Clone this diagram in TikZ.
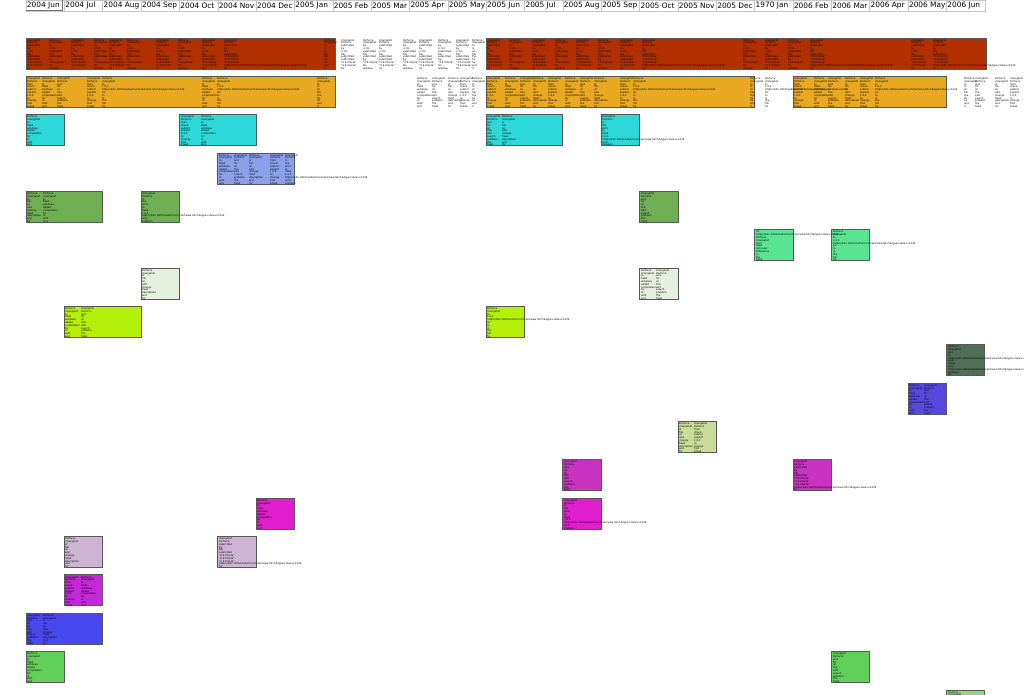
\documentclass[tikz,border=0pt]{standalone}
\usepackage{fontspec}
\setmainfont{DejaVu Sans}
\definecolor{cRed}{RGB}{178,48,0}
\definecolor{cOrange}{RGB}{232,168,32}
\definecolor{cCyan}{RGB}{44,216,216}
\definecolor{cLav}{RGB}{138,160,232}
\definecolor{cGreen}{RGB}{112,174,86}
\definecolor{cLGreen}{RGB}{88,228,144}
\definecolor{cPale}{RGB}{230,240,222}
\definecolor{cLime}{RGB}{180,240,10}
\definecolor{cDGreen}{RGB}{82,112,88}
\definecolor{cViolet}{RGB}{88,72,224}
\definecolor{cPYG}{RGB}{200,220,152}
\definecolor{cPM}{RGB}{200,52,192}
\definecolor{cMag}{RGB}{224,32,208}
\definecolor{cLilac}{RGB}{204,180,210}
\definecolor{cPurp}{RGB}{196,40,216}
\definecolor{cBlue}{RGB}{72,72,236}
\definecolor{cGr2}{RGB}{96,208,88}
\definecolor{cGr3}{RGB}{136,216,136}
\def\U{https://bits.1000/studio/trac/ticket/view?id=5\&type=1\&rev=1229}
\def\sA{changelist\\Perforce\\submitted\\by\\ci.tm\\file\\submitted\\submitted\\"0.9.0 beta"\\"0.9.0 beta"\\fix}
\def\sB{Perforce\\changelist\\by\\ci.tm\\submitted\\file\\submitted\\by\\"0.9.0 beta"\\for\\window}
\def\sC{changelist\\Perforce\\from\\check\\submit\\explicit\\1.0.0\\to\\change\\find\\break}
\def\sD{Perforce\\changelist\\to\\fixed\\windows\\added\\compilation\\for\\in\\with\\and}
\def\sE{changelist\\Perforce\\and\\for\\on\\this\\edit\\search\\problem\\the\\fixed}
\def\sF{Perforce\\changelist\\of\\file\\on\\add\\change\\fixed\\description\\and\\for}
\def\sG{Perforce\\changelist\\to\\in\\on\\file\\the\\fix\\for\\and\\it}
\def\uB{changelist\\Perforce\\in\\the\\error\\to\\fixed\\1.0.0\\\U\\error\\problem}
\def\uC{Perforce\\changelist\\to\\1.0.0\\\U\\for\\to\\in\\the\\file\\fix}
\def\uD{changelist\\Perforce\\submitted\\by\\file\\submitted\\"0.9.0 beta"\\"0.9.0 beta"\\"0.9.0 beta"\\\U\\fix}
\def\uE{for\\\U\\Perforce\\changelist\\from\\fixed\\removed\\Difference\\ui\\the\\done}
\def\uF{Perforce\\changelist\\and\\in\\\U\\want\\Inbox\\only\\\U\\software\\fix}
\tikzset{
  bx/.style={draw=black!65,line width=0.9pt,anchor=north west,inner sep=0pt,outer sep=0pt,minimum height=31},
  txt/.style={anchor=north west,inner sep=0pt,align=left,font={\fontsize{2.5}{2.8}\selectfont}},
  hdr/.style={anchor=west,inner sep=0pt,font={\fontsize{7.4}{8}\selectfont}},
  hdrline/.style={draw=black!22,line width=0.5pt}
}
\newcommand\bx[5]{\node[bx,fill=#5,minimum width={#4*38.35}] (#1) at ({26+#2*38.35},{38+#3*38.35}) {};}
\newcommand\tcols[3]{\foreach \xx/\st [count=\i] in {#3} {\node[txt] (#1\i) at (\xx,{39+#2*38.35}) {\st};}}
\begin{document}
\begin{tikzpicture}[x=1pt,y=-1pt]
\useasboundingbox[fill=white] (0,0) rectangle (1024,694);
% header
\foreach \m [count=\i from 0] in {2004 Jun,2004 Jul,2004 Aug,2004 Sep,2004 Oct,2004 Nov,2004 Dec,2005 Jan,2005 Feb,2005 Mar,2005 Apr,2005 May,2005 Jun,2005 Jul,2005 Aug,2005 Sep,2005 Oct,2005 Nov,2005 Dec,1970 Jan,2006 Feb,2006 Mar,2006 Apr,2006 May,2006 Jun}{
  \draw[hdrline] ({26+\i*38.35},0) rectangle ({26+(\i+1)*38.35},11);
  \node[hdr] (h\i) at ({26.8+\i*38.35},5.8) {\m};
}
\draw[black!55,line width=0.5pt] (26,10.6) -- (62.5,10.6) -- (62.5,0);
% boxes
\bx{r0a}{0}{0}{8.06}{cRed}
\bx{r0b}{12}{0}{13.04}{cRed}
\bx{r1a}{0}{1}{8.06}{cOrange}
\bx{r1b}{12}{1}{7}{cOrange}
\bx{r1c}{20}{1}{4}{cOrange}
\bx{r2a}{0}{2}{1}{cCyan}
\bx{r2b}{4}{2}{2}{cCyan}
\bx{r2c}{12}{2}{2}{cCyan}
\bx{r2d}{15}{2}{1}{cCyan}
\bx{r3a}{5}{3}{2}{cLav}
\bx{r4a}{0}{4}{2}{cGreen}
\bx{r4b}{3}{4}{1}{cGreen}
\bx{r4c}{16}{4}{1}{cGreen}
\bx{r5a}{19}{5}{1}{cLGreen}
\bx{r5b}{21}{5}{1}{cLGreen}
\bx{r6a}{3}{6}{1}{cPale}
\bx{r6b}{16}{6}{1}{cPale}
\bx{r7a}{1}{7}{2}{cLime}
\bx{r7b}{12}{7}{1}{cLime}
\bx{r8a}{24}{8}{1}{cDGreen}
\bx{r9a}{23}{9}{1}{cViolet}
\bx{r10a}{17}{10}{1}{cPYG}
\bx{r11a}{14}{11}{1}{cPM}
\bx{r11b}{20}{11}{1}{cPM}
\bx{r12a}{6}{12}{1}{cMag}
\bx{r12b}{14}{12}{1}{cMag}
\bx{r13a}{1}{13}{1}{cLilac}
\bx{r13b}{5}{13}{1}{cLilac}
\bx{r14a}{1}{14}{1}{cPurp}
\bx{r15a}{0}{15}{2}{cBlue}
\bx{r16a}{0}{16}{1}{cGr2}
\bx{r16b}{21}{16}{1}{cGr2}
\bx{r17a}{24}{17}{1}{cGr3}
% texts
\tcols{ta}{0}{27/\sA,49/\sB,71/\sA,94/\sB,109/\sA,127/\sB,156/\sA,178/\sB,202/\sA,224/\uD,324/\sG,341/\sA,363/\sB,379/\sA,403/\sB,419/\sA,438/\sB,456/\sA,472/\sG}
\tcols{tb}{0}{487/\sA,509/\sB,532/\sA,555/\sB,576/\sA,598/\sB,620/\sA,642/\uD,743/\sB,765/\sA,788/\sB,810/\uD,911/\sA,933/\uD}
\tcols{tc}{1}{27/\sC,42/\sD,57/\sE,87/\sC,102/\uC,202/\sD,217/\uC,317/\sG,417/\sD,432/\sE,448/\sF,460/\sC,472/\sG}
\tcols{td}{1}{487/\sC,505/\sD,520/\sE,533/\sF,548/\sC,565/\sD,580/\sE,594/\sF,620/\sC,633/\uC,750/\sG,765/\uC}
\tcols{te}{1}{794/\sC,814/\sD,828/\sE,845/\sF,860/\sC,875/\uC,964/\sG,975/\sE,995/\sF,1010/\sC}
\tcols{tf}{2}{27/\sD,181/\sC,201/\sD,487/\sE,502/\sF,602/\uB}
\tcols{tg}{3}{219/\sD,234/\sE,249/\sF,270/\sC,285/\uB}
\tcols{th}{4}{27/\sF,43/\sD,142/\uB,641/\sE}
\tcols{ti}{5}{756/\uE,833/\uC}
\tcols{tj}{6}{142/\sF,641/\sD,656/\sE}
\tcols{tk}{7}{65/\sD,81/\sE,487/\uC}
\tcols{tl}{8}{948/\uF}
\tcols{tm}{9}{909/\sD,924/\sE}
\tcols{tn}{10}{679/\sF,694/\sC}
\tcols{to}{11}{564/\sE,794/\uD}
\tcols{tp}{12}{257/\sD,564/\uB}
\tcols{tq}{13}{65/\sF,219/\uD}
\tcols{tr}{14}{65/\sC,81/\sD}
\tcols{ts}{15}{27/\sE,43/\sF}
\tcols{tt}{16}{27/\sD,833/\sE}
\tcols{tu}{17}{948/\sD}
\end{tikzpicture}
\end{document}
